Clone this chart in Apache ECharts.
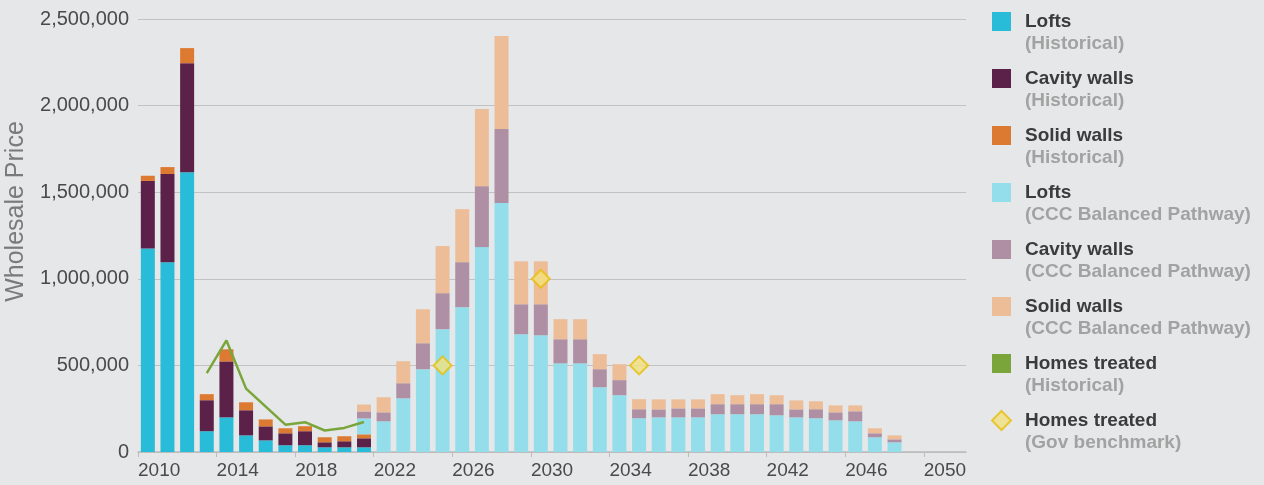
<!DOCTYPE html>
<html lang="en">
<head>
    <meta charset="UTF-8">
    <title>Insulation measures</title>
    <script src="https://cdn.jsdelivr.net/npm/echarts@6/dist/echarts.min.js"></script>
    <style>
        html, body { margin: 0; padding: 0; background: #e6e7e9; }
        #app { width: 1264px; height: 485px; }
    </style>
</head>
<body>
    <div id="app"></div>
    <script>
        const years = [2010, 2011, 2012, 2013, 2014, 2015, 2016, 2017, 2018, 2019,
                       2020, 2021, 2022, 2023, 2024, 2025, 2026, 2027, 2028, 2029,
                       2030, 2031, 2032, 2033, 2034, 2035, 2036, 2037, 2038, 2039,
                       2040, 2041, 2042, 2043, 2044, 2045, 2046, 2047, 2048, 2049]

        // historical bars
        const histYears = [2010, 2011, 2012, 2013, 2014, 2015, 2016, 2017, 2018, 2019, 2020, 2021]
        const histLofts  = [1175000, 1095000, 1615000, 120000, 200000, 96000, 67000, 39000, 39000, 27000, 27000, 27000]
        const histCavity = [390000, 510000, 630000, 179000, 323000, 145000, 81000, 69000, 81000, 29000, 35000, 52000]
        const histSolid  = [30000, 40000, 87000, 35000, 70000, 46000, 40000, 29000, 29000, 29000, 29000, 23000]

        // CCC balanced pathway
        const cccYears = [2021, 2022, 2023, 2024, 2025, 2026, 2027, 2028, 2029, 2030, 2031, 2032, 2033, 2034,
                          2035, 2036, 2037, 2038, 2039, 2040, 2041, 2042, 2043, 2044, 2045, 2046, 2047, 2048]
        const cccLofts  = [92000, 177000, 310000, 478000, 709000, 836000, 1183000, 1437000, 680000, 674000, 512000, 512000, 374000, 328000,
                           195000, 200000, 200000, 200000, 218000, 218000, 218000, 212000, 200000, 195000, 183000, 177000, 85000, 56000]
        const cccCavity = [40000, 52000, 87000, 150000, 208000, 260000, 352000, 428000, 173000, 179000, 139000, 139000, 104000, 87000,
                           52000, 46000, 52000, 52000, 58000, 58000, 58000, 64000, 46000, 52000, 46000, 58000, 23000, 17000]
        const cccSolid  = [40000, 87000, 127000, 196000, 272000, 306000, 445000, 537000, 248000, 248000, 116000, 116000, 87000, 92000,
                           58000, 58000, 52000, 52000, 58000, 52000, 58000, 52000, 52000, 46000, 40000, 34000, 29000, 23000]

        // homes treated
        const treatedYears = [2013, 2014, 2015, 2016, 2017, 2018, 2019, 2020, 2021]
        const treatedHist  = [455000, 644000, 366000, 262000, 158000, 172000, 124000, 139000, 173000]
        const benchYears = [2025, 2030, 2035]
        const benchValues = [500000, 1000000, 500000]

        const xTicks = [2010, 2014, 2018, 2022, 2026, 2030, 2034, 2038, 2042, 2046, 2050]

        // spread a short series over the full year list
        const fill = (ys, vs) => years.map(y => {
            const i = ys.indexOf(y)
            return i < 0 ? null : vs[i]
        })

        const bar = (name, color, ys, vs) => ({
            name, type: 'bar', stack: 'all', barWidth: 14,
            xAxisIndex: 1, yAxisIndex: 1,
            itemStyle: { color }, data: fill(ys, vs)
        })

        var myChart = echarts.init(document.getElementById('app'));

        var option = {
            backgroundColor: '#e6e7e9',
            animation: false,
            textStyle: { fontFamily: '"Liberation Sans", Arial, sans-serif' },
            grid: [
                // axes, labels, grid lines
                { left: 138, right: 298, top: 19, bottom: 33, outerBoundsMode: 'none' },
                // the 40 year bands
                { left: 138, right: 340, top: 19, bottom: 33, outerBoundsMode: 'none' }
            ],
            legend: {
                orient: 'vertical',
                left: 991,
                top: -10,
                padding: 0,
                itemGap: -6,
                itemWidth: 19,
                itemHeight: 19,
                icon: 'rect',
                data: [
                    'Lofts (Historical)',
                    'Cavity walls (Historical)',
                    'Solid walls (Historical)',
                    'Lofts (CCC Balanced Pathway)',
                    'Cavity walls (CCC Balanced Pathway)',
                    'Solid walls (CCC Balanced Pathway)',
                    'Homes treated (Historical)',
                    { name: 'Homes treated (Gov benchmark)', icon: 'diamond' }
                ],
                formatter(name) {
                    const i = name.indexOf(' (')
                    // empty first line keeps the title level with the icon
                    return '{g| }\n{t|' + name.slice(0, i) + '}\n{s|' + name.slice(i + 1) + '}'
                },
                textStyle: {
                    rich: {
                        g: { fontSize: 19, lineHeight: 22, padding: [0, 0, 0, 9] },
                        t: { fontSize: 19, fontWeight: 'bold', color: '#3b3b3b', lineHeight: 22, padding: [0, 0, 0, 9] },
                        s: { fontSize: 19, fontWeight: 'bold', color: '#a2a2a2', lineHeight: 22, padding: [0, 0, 0, 9] }
                    }
                }
            },
            xAxis: [
                {
                    type: 'value',
                    gridIndex: 0,
                    min: 2010,
                    max: 2052.15,
                    interval: 2,
                    splitLine: { show: false },
                    axisLine: { show: true, lineStyle: { color: '#bcbcbc', width: 1.5 } },
                    axisTick: { show: true, customValues: xTicks, length: 5, lineStyle: { color: '#bcbcbc' } },
                    axisLabel: {
                        customValues: xTicks,
                        align: 'left',
                        fontSize: 19,
                        color: '#4a4a4a',
                        margin: 9,
                        formatter: v => String(v)
                    }
                },
                {
                    type: 'category',
                    gridIndex: 1,
                    data: years,
                    show: false
                }
            ],
            yAxis: [
                {
                    type: 'value',
                    gridIndex: 0,
                    min: 0,
                    max: 2500000,
                    interval: 500000,
                    name: 'Wholesale Price',
                    nameLocation: 'middle',
                    nameGap: 109,
                    nameTextStyle: { fontSize: 25, color: '#7a7a7a', padding: [0, 0, 0, 48] },
                    axisLine: { show: false },
                    axisTick: { show: false },
                    splitLine: { lineStyle: { color: '#c2c2c2', width: 1 } },
                    axisLabel: {
                        fontSize: 20,
                        color: '#4a4a4a',
                        margin: 9,
                        formatter: v => v.toLocaleString('en-US')
                    }
                },
                {
                    type: 'value',
                    gridIndex: 1,
                    min: 0,
                    max: 2500000,
                    show: false,
                    splitLine: { show: false }
                }
            ],
            series: [
                bar('Lofts (Historical)', '#28bcd9', histYears, histLofts),
                bar('Cavity walls (Historical)', '#5b2149', histYears, histCavity),
                bar('Solid walls (Historical)', '#dd7a31', histYears, histSolid),
                bar('Lofts (CCC Balanced Pathway)', '#93deea', cccYears, cccLofts),
                bar('Cavity walls (CCC Balanced Pathway)', '#ae8fa3', cccYears, cccCavity),
                bar('Solid walls (CCC Balanced Pathway)', '#edbd98', cccYears, cccSolid),
                {
                    name: 'Homes treated (Historical)',
                    type: 'line',
                    xAxisIndex: 1, yAxisIndex: 1,
                    showSymbol: false,
                    z: 5,
                    itemStyle: { color: '#7aa53b' },
                    lineStyle: { color: '#7aa53b', width: 2.5 },
                    data: fill(treatedYears, treatedHist)
                },
                {
                    name: 'Homes treated (Gov benchmark)',
                    type: 'scatter',
                    xAxisIndex: 1, yAxisIndex: 1,
                    symbol: 'diamond',
                    symbolSize: 18,
                    z: 6,
                    itemStyle: { color: '#f3e17e', borderColor: '#e6be0b', borderWidth: 2 },
                    data: fill(benchYears, benchValues)
                }
            ]
        };

        myChart.setOption(option);
    </script>
</body>
</html>
